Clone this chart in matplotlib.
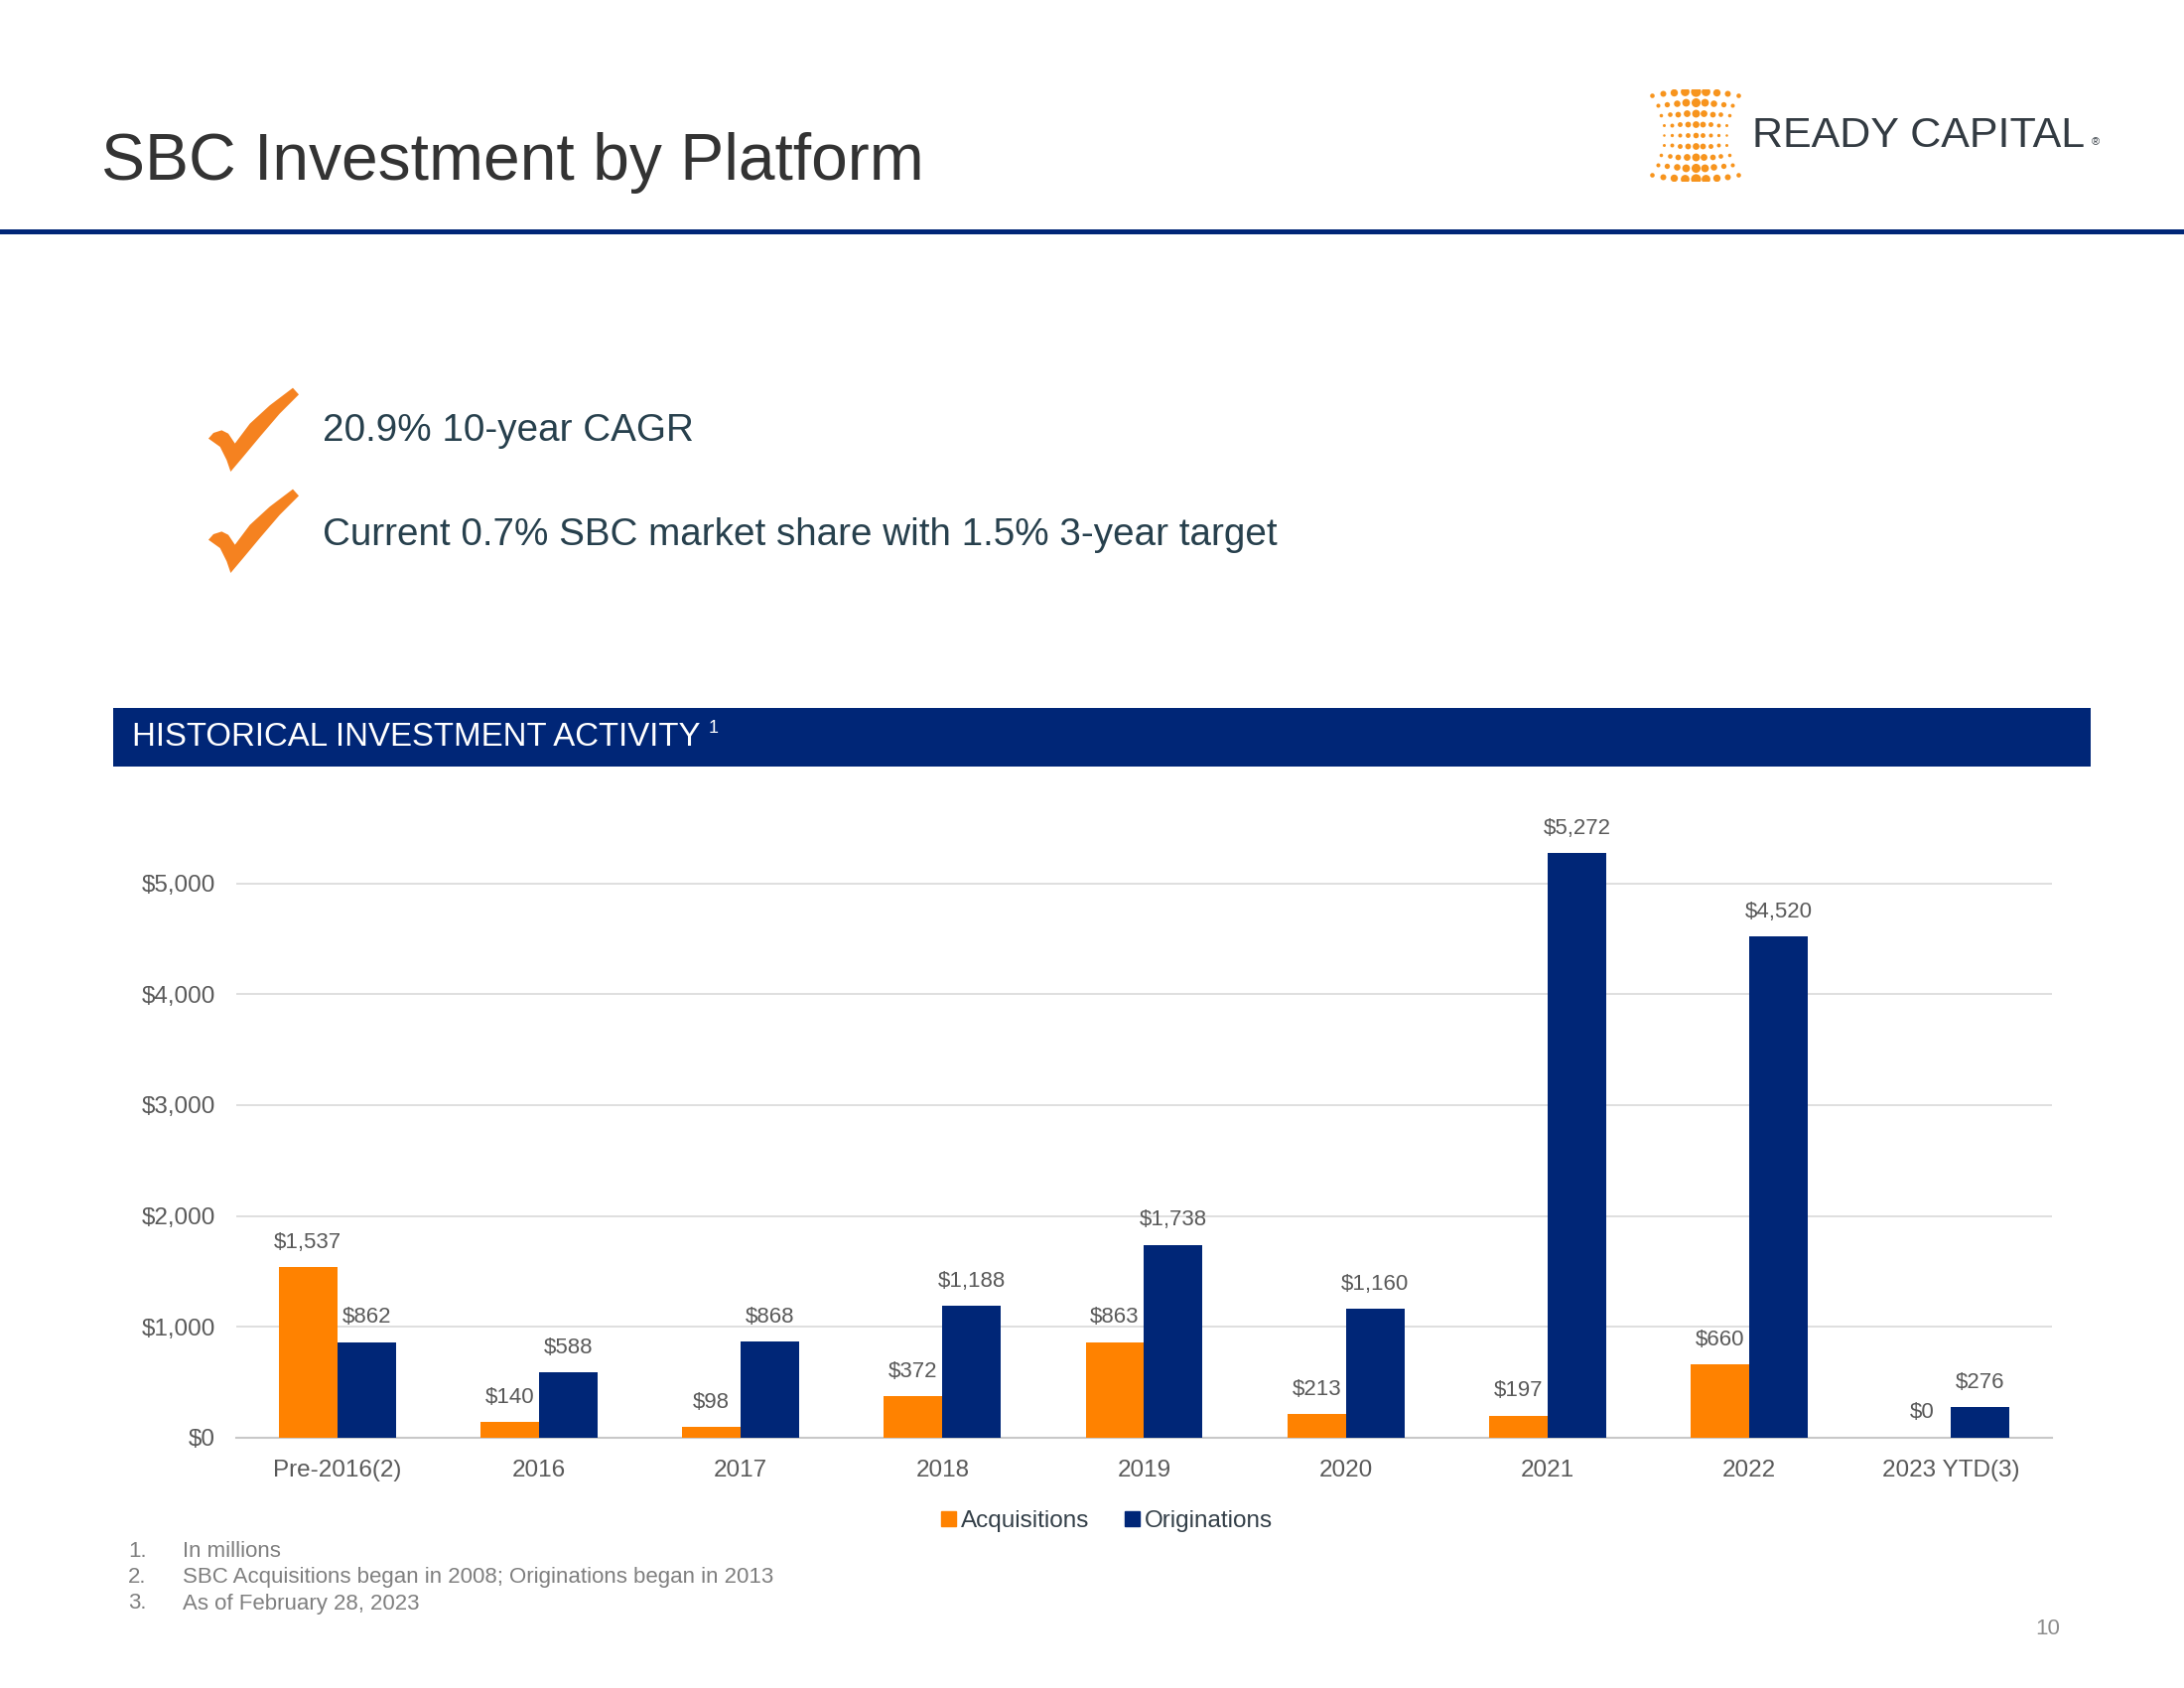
import numpy as np
import matplotlib.pyplot as plt
from matplotlib.patches import Polygon, Patch

plt.rcParams['font.family'] = ['Liberation Sans', 'DejaVu Sans']

# data (in $ millions)
categories = ['Pre-2016(2)', '2016', '2017', '2018', '2019', '2020', '2021', '2022', '2023 YTD(3)']
acquisitions = [1537, 140, 98, 372, 863, 213, 197, 660, 0]
originations = [862, 588, 868, 1188, 1738, 1160, 5272, 4520, 276]
yticks = [0, 1000, 2000, 3000, 4000, 5000]
bullets = ['20.9% 10-year CAGR', 'Current 0.7% SBC market share with 1.5% 3-year target']
footnotes = ['In millions', 'SBC Acquisitions began in 2008; Originations began in 2013',
             'As of February 28, 2023']

ORANGE = '#FF8200'
NAVY = '#002677'
GREY = '#595959'

W, H = 2200, 1700
fig = plt.figure(figsize=(22, 17), dpi=100)


def fx(x):
    return x / W


def fy(y):
    return 1 - y / H


# header
fig.text(fx(102), fy(164), 'SBC Investment by Platform', fontsize=47.5, color='#333333', va='center')
fig.add_artist(plt.Rectangle((0, fy(236)), 1, 5 / H, transform=fig.transFigure,
                             color=NAVY, lw=0))

# logo
lax = fig.add_axes([fx(1660), fy(182), 95 / W, 92 / H])
lax.set_xlim(-1.1, 1.1)
lax.set_ylim(-1.15, 1.15)
lax.axis('off')
for r in range(9):
    ro = (r - 4) / 4
    width = 0.72 + 0.28 * ro ** 2
    for c in range(9):
        co = (c - 4) / 4
        yy = ro * (1 + 0.1 * (1 - co ** 2))
        rpx = (2.8 + 2.3 * abs(ro)) * (1 - 0.55 * abs(co))
        lax.scatter(co * width, yy, s=(2 * rpx * 0.72) ** 2, color='#F7941D', lw=0)
fig.text(fx(1765), fy(137), 'READY CAPITAL', fontsize=31, color='#333b42', va='center')
fig.text(fx(2107), fy(143), '®', fontsize=8, color='#333b42', va='center')


# check marks + bullets
CHECK = [(45, 185), (60, 168), (85, 160), (105, 170), (125, 200), (170, 140), (230, 85),
         (300, 32), (318, 52), (260, 110), (200, 180), (150, 240), (112, 285), (100, 250),
         (80, 210)]


def check(x0, y0):
    xy = [(fx(x0 + px / 3), fy(y0 + py / 3)) for px, py in CHECK]
    fig.add_artist(Polygon(xy, closed=True, transform=fig.transFigure, color='#F58220', lw=0))


check(195, 380)
check(195, 482)
fig.text(fx(325), fy(434), bullets[0], fontsize=27.8, color='#27404d', va='center')
fig.text(fx(325), fy(539), bullets[1], fontsize=27.8, color='#27404d', va='center')

# section banner
fig.add_artist(plt.Rectangle((fx(114), fy(772)), (2106 - 114) / W, 59 / H,
                             transform=fig.transFigure, color=NAVY, lw=0))
bt = fig.text(fx(133), fy(742), 'HISTORICAL INVESTMENT ACTIVITY', fontsize=23.8,
              color='white', va='center')
renderer = fig.canvas.get_renderer()
bb = bt.get_window_extent(renderer)
fig.text(bb.x1 / W + 8 / W, fy(733), '1', fontsize=13, color='white', va='center')

# chart
ax = fig.add_axes([fx(238), fy(1448), (2067 - 238) / W, (1448 - 822.5) / H])
x = np.arange(len(categories))
bw = 0.29
b1 = ax.bar(x - bw / 2, acquisitions, bw, color=ORANGE, zorder=3)
b2 = ax.bar(x + bw / 2, originations, bw, color=NAVY, zorder=3)
for bars, vals in ((b1, acquisitions), (b2, originations)):
    for rect, v in zip(bars, vals):
        ax.annotate(f'${v:,}', (rect.get_x() + rect.get_width() / 2, v),
                    xytext=(0, 18), textcoords='offset points', ha='center', va='center',
                    fontsize=16, color=GREY, annotation_clip=False)

ax.set_xlim(-0.5, len(categories) - 0.5)
ax.set_ylim(0, 5600)
ax.set_yticks(yticks)
ax.set_yticklabels([f'${v:,}' for v in yticks])
ax.set_xticks(x)
ax.set_xticklabels(categories)
ax.tick_params(axis='both', length=0, labelsize=17.5, labelcolor=GREY)
ax.tick_params(axis='y', pad=15)
ax.tick_params(axis='x', pad=16)
ax.grid(axis='y', color='#d9d9d9', lw=1.2, zorder=0)
for s in ('top', 'right', 'left'):
    ax.spines[s].set_visible(False)
ax.spines['bottom'].set_color('#c8c8c8')
ax.spines['bottom'].set_linewidth(1.5)

handles = [Patch(color=ORANGE, label='Acquisitions'), Patch(color=NAVY, label='Originations')]
fig.legend(handles=handles, loc='center', bbox_to_anchor=(fx(1115), fy(1532)), ncol=2,
           frameon=False, fontsize=17.5, handlelength=0.6, handleheight=0.6,
           handletextpad=0.2, columnspacing=1.5, labelcolor='#333f48')

# footnotes
for i, note in enumerate(footnotes):
    yy = fy(1562 + i * 26.5)
    fig.text(fx(129), yy, f'{i + 1}.', fontsize=16, color='#7f7f7f', va='center')
    fig.text(fx(184), yy, note, fontsize=16, color='#7f7f7f', va='center')
fig.text(fx(2075), fy(1640), '10', fontsize=16, color='#8c8c8c', va='center', ha='right')

fig.savefig('out.png', dpi=100)
